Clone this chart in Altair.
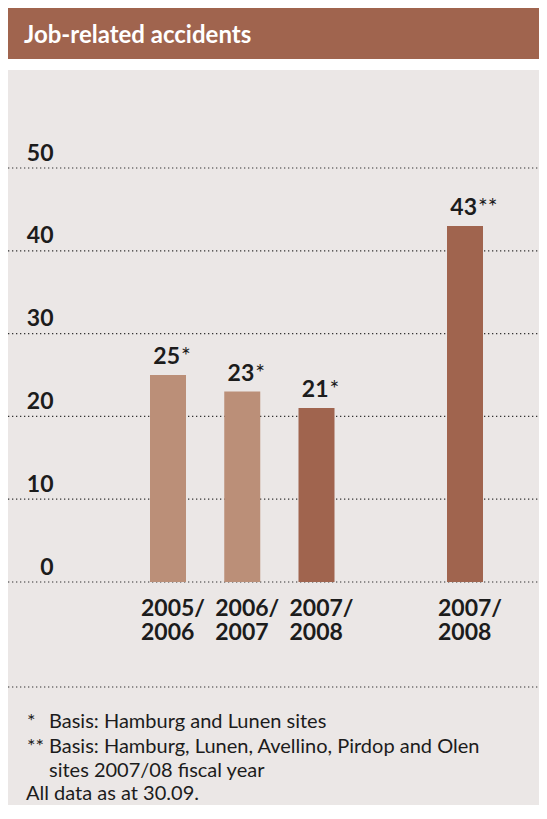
import altair as alt
import pandas as pd

# ---- data ----
keys = ["2005/06", "2006/07", "2007/08", "gap", "2007/08 all"]
bar_keys = ["2005/06", "2006/07", "2007/08", "2007/08 all"]
values = [25, 23, 21, 43]
stars = ["*", "*", "*", "**"]
x_labels = ["2005/\n2006", "2006/\n2007", "2007/\n2008", "2007/\n2008"]
shade = ["light", "light", "dark", "dark"]
y_ticks = [0, 10, 20, 30, 40, 50]
title_text = "Job-related accidents"
notes_mark = ["*", "**"]
notes_text = ["Basis: Hamburg and Lunen sites",
              "Basis: Hamburg, Lunen, Avellino, Pirdop and Olen",
              "sites 2007/08 fiscal year"]
notes_all = "All data as at 30.09."

W, H = 531, 797
BROWN = "#a0644e"
LIGHT = "#bb8f78"
GRAY = "#ebe7e6"
INK = "#1c1c1c"
DOT = "#333333"
FONT = "Lato"

df = pd.DataFrame({"key": bar_keys, "value": values, "stars": stars,
                   "xlabel": x_labels, "shade": shade})
grid_df = pd.DataFrame({"tick": y_ticks})

xs = alt.Scale(type="point", domain=keys, range=[160, 457], padding=0)
ys = alt.Scale(domain=[0, 50], range=[574, 160], nice=False, zero=True)

YAXIS = alt.Axis(values=y_ticks, domain=False, ticks=False, grid=False,
                 title=None, labelAlign="right", labelPadding=-45,
                 labelBaseline="alphabetic", labelOffset=-8,
                 labelFont=FONT, labelFontSize=23, labelFontWeight="bold",
                 labelColor=INK)

X = alt.X("key:N", scale=xs, axis=None)
Y = alt.Y("value:Q", scale=ys, axis=YAXIS, title=None)

base = alt.Chart(df)

grid = alt.Chart(grid_df).mark_rule(color=DOT, strokeDash=[1.3, 2.7],
                                    strokeWidth=1.2).encode(
    y=alt.Y("tick:Q", scale=ys, axis=YAXIS, title=None),
    x=alt.value(0), x2=alt.value(W))

bars = base.mark_bar(size=36).encode(
    x=X, y=Y,
    color=alt.Color("shade:N", scale=alt.Scale(domain=["light", "dark"],
                                               range=[LIGHT, BROWN]), legend=None),
)

nums = base.mark_text(align="right", baseline="alphabetic", dx=12, dy=-11,
                      font=FONT, fontSize=23, fontWeight="bold", color=INK).encode(
    x=X, y=Y, text=alt.Text("value:Q"))

stars_t = base.mark_text(align="left", baseline="alphabetic", dx=13, dy=-11,
                         font=FONT, fontSize=23, fontWeight="normal", color=INK).encode(
    x=X, y=Y, text="stars:N")

xlab = base.mark_text(align="left", baseline="alphabetic", dx=-27, dy=34,
                      lineBreak="\n", lineHeight=24,
                      font=FONT, fontSize=23, fontWeight="bold", color=INK).encode(
    x=X, y=alt.datum(0, scale=ys, axis=YAXIS, title=None), text="xlabel:N")


def deco_text(txt, x, y, size, weight="normal", color=INK):
    return alt.Chart(pd.DataFrame({"t": [txt]})).mark_text(
        align="left", baseline="alphabetic", font=FONT, fontSize=size,
        fontWeight=weight, color=color).encode(
        text="t:N", x=alt.value(x), y=alt.value(y))


one = pd.DataFrame({"a": [0]})
header = alt.Chart(one).mark_rect(color=BROWN).encode(
    x=alt.value(0), x2=alt.value(W), y=alt.value(0), y2=alt.value(51))
gap = alt.Chart(one).mark_rect(color="white").encode(
    x=alt.value(0), x2=alt.value(W), y=alt.value(51), y2=alt.value(62))
sep = alt.Chart(one).mark_rule(color=DOT, strokeDash=[1.3, 2.7],
                               strokeWidth=1.2).encode(
    x=alt.value(0), x2=alt.value(W), y=alt.value(679))

layers = [header, gap, grid, bars, nums, stars_t, xlab, sep,
          deco_text(title_text, 16, 35, 24, "bold", "white"),
          deco_text(notes_mark[0], 19, 720, 20),
          deco_text(notes_text[0], 41, 720, 20),
          deco_text(notes_mark[1], 19, 745, 20),
          deco_text(notes_text[1], 41, 745, 20),
          deco_text(notes_text[2], 41, 769, 20),
          deco_text(notes_all, 18, 792, 20)]

chart = alt.layer(*layers).properties(
    width=W, height=H, padding=0,
    autosize=alt.AutoSizeParams(type="none"),
    background="white",
).configure_view(fill=GRAY, stroke=None, strokeWidth=0)

chart.save("out.html", embed_options={"renderer": "svg", "actions": False})
